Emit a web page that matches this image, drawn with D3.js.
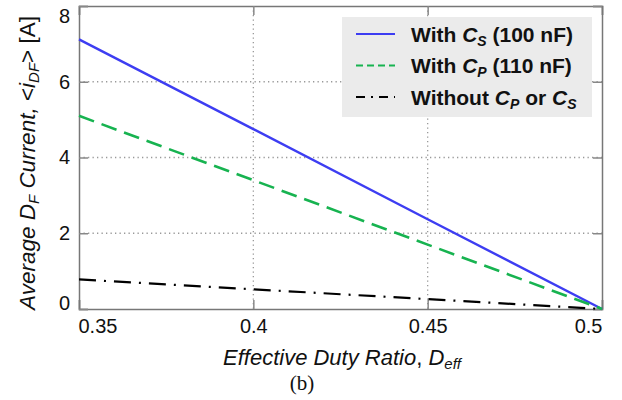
<!DOCTYPE html>
<html>
<head>
<meta charset="utf-8">
<script src="https://cdn.jsdelivr.net/npm/d3@7"></script>
<style>
  body { margin: 0; background: #fff; }
  text { font-family: "Liberation Sans", Arial, sans-serif; }
  text.serif { font-family: "Liberation Serif", "Times New Roman", serif; }
</style>
</head>
<body>
<div id="chart"></div>
<script>
// values
const dutyRatio = [0.35, 0.40, 0.45, 0.50];
const withCs = [7.12, 4.75, 2.37, 0];
const withCp = [5.10, 3.40, 1.70, 0];
const withoutCpCs = [0.78, 0.52, 0.26, 0];
const xTicks = [0.35, 0.4, 0.45, 0.5];
const yTicks = [0, 2, 4, 6, 8];

const width = 622, height = 400;
const plotLeft = 79, plotRight = 602, plotTop = 6, plotBottom = 309;

const svg = d3.select('#chart').append('svg')
	.attr('width', width)
	.attr('height', height);

const x = d3.scaleLinear().domain([0.35, 0.5]).range([plotLeft, plotRight]);
const y = d3.scaleLinear().domain([0, 8]).range([plotBottom, plotTop]);

// grid
svg.append('g')
	.selectAll('line')
	.data(xTicks.slice(1, -1))
	.enter().append('line')
	.attr('x1', d => x(d)).attr('x2', d => x(d))
	.attr('y1', plotTop).attr('y2', plotBottom)
	.attr('stroke', '#999').attr('stroke-width', 1.3).attr('stroke-dasharray', '1.3,3.2');

svg.append('g')
	.selectAll('line')
	.data(yTicks.slice(1, -1))
	.enter().append('line')
	.attr('x1', plotLeft).attr('x2', plotRight)
	.attr('y1', d => y(d)).attr('y2', d => y(d))
	.attr('stroke', '#999').attr('stroke-width', 1.3).attr('stroke-dasharray', '1.3,3.2');

// axes with inward ticks
const tickLen = 9;
const xb = svg.append('g')
	.attr('transform', 'translate(0,' + plotBottom + ')')
	.call(d3.axisBottom(x).tickValues(xTicks).tickSize(-tickLen).tickPadding(10).tickFormat(d3.format('')));
const xt = svg.append('g')
	.attr('transform', 'translate(0,' + plotTop + ')')
	.call(d3.axisTop(x).tickValues(xTicks).tickSize(-tickLen).tickFormat(''));
const yl = svg.append('g')
	.attr('transform', 'translate(' + plotLeft + ',0)')
	.call(d3.axisLeft(y).tickValues(yTicks).tickSize(-tickLen).tickPadding(9));
const yr = svg.append('g')
	.attr('transform', 'translate(' + plotRight + ',0)')
	.call(d3.axisRight(y).tickValues(yTicks).tickSize(-tickLen).tickFormat(''));

[xb, xt, yl, yr].forEach(g => {
	g.select('.domain').attr('stroke', '#777').attr('stroke-width', 1.5);
	g.selectAll('.tick line').attr('stroke', '#888').attr('stroke-width', 1.5);
	g.selectAll('.tick text')
		.attr('font-size', 20)
		.attr('fill', '#111');
});
// end labels are pulled inside the frame, as in the original
xb.selectAll('.tick text')
	.attr('text-anchor', (d, i) => i === 0 ? 'start' : (i === xTicks.length - 1 ? 'end' : 'middle'))
	.attr('dx', (d, i) => i === 0 ? -1 : 0);
yl.selectAll('.tick text')
	.attr('dy', (d, i) => i === 0 ? '0px' : (i === yTicks.length - 1 ? '16px' : '0.32em'));

// series
const series = [
	{name: 'cs', values: withCs, color: '#3d3df2', dash: null, w: 2.4},
	{name: 'cp', values: withCp, color: '#17b350', dash: '16,8', w: 2.6},
	{name: 'none', values: withoutCpCs, color: '#000', dash: '17,8,2,8', w: 2.2}
];

const line = d3.line()
	.x(d => x(d[0]))
	.y(d => y(d[1]));

svg.append('g')
	.selectAll('path')
	.data(series)
	.enter().append('path')
	.attr('d', s => line(dutyRatio.map((d, i) => [d, s.values[i]])))
	.attr('fill', 'none')
	.attr('stroke', s => s.color)
	.attr('stroke-width', s => s.w)
	.attr('stroke-dasharray', s => s.dash);

// legend
const legend = svg.append('g');
legend.append('rect')
	.attr('x', 342).attr('y', 17)
	.attr('width', 250).attr('height', 100)
	.attr('fill', '#ebebeb');

const legendRows = [
	{s: series[0], parts: [['With ', ''], ['C', 'i'], ['S', 'is'], [' (100 nF)', '']]},
	{s: series[1], parts: [['With ', ''], ['C', 'i'], ['P', 'is'], [' (110 nF)', '']]},
	{s: series[2], parts: [['Without ', ''], ['C', 'i'], ['P', 'is'], [' or ', ''], ['C', 'i'], ['S', 'is']]}
];
const legendDash = [null, '7,4', '9,6,2,6'];

legendRows.forEach((r, i) => {
	const cy = 34 + i * 31.5;
	legend.append('line')
		.attr('x1', 356).attr('x2', 395)
		.attr('y1', cy).attr('y2', cy)
		.attr('stroke', r.s.color)
		.attr('stroke-width', 2)
		.attr('stroke-dasharray', legendDash[i]);
	const t = legend.append('text')
		.attr('x', 411).attr('y', cy + 7.5)
		.attr('font-size', 21)
		.attr('font-weight', 'bold')
		.attr('fill', '#111');
	r.parts.forEach(p => {
		const ts = t.append('tspan').text(p[0]);
		if (p[1].includes('i')) ts.attr('font-style', 'italic');
		if (p[1].includes('s')) ts.attr('font-size', 14).attr('baseline-shift', '-4');
	});
});

// axis titles
const yTitle = svg.append('text')
	.attr('transform', 'translate(35,163) rotate(-90)')
	.attr('text-anchor', 'middle')
	.attr('font-size', 22.5)
	.attr('fill', '#111');
[['Average D', 'i'], ['F', 'is'], [' Current,', 'i'], [' <', ''], ['i', 'i'], ['DF', 'is'], ['> [A]', '']]
	.forEach(p => {
		const ts = yTitle.append('tspan').text(p[0]);
		if (p[1].includes('i')) ts.attr('font-style', 'italic');
		if (p[1].includes('s')) ts.attr('font-size', 15).attr('baseline-shift', '-4');
	});

const xTitle = svg.append('text')
	.attr('x', 342).attr('y', 365)
	.attr('text-anchor', 'middle')
	.attr('font-size', 22)
	.attr('fill', '#111');
[['Effective Duty Ratio', 'i'], [', ', ''], ['D', 'i'], ['eff', 'is']]
	.forEach(p => {
		const ts = xTitle.append('tspan').text(p[0]);
		if (p[1].includes('i')) ts.attr('font-style', 'italic');
		if (p[1].includes('s')) ts.attr('font-size', 15).attr('baseline-shift', '-4');
	});

svg.append('text')
	.attr('class', 'serif')
	.attr('x', 302).attr('y', 390)
	.attr('text-anchor', 'middle')
	.attr('font-size', 21)
	.attr('fill', '#111')
	.text('(b)');
</script>
</body>
</html>
